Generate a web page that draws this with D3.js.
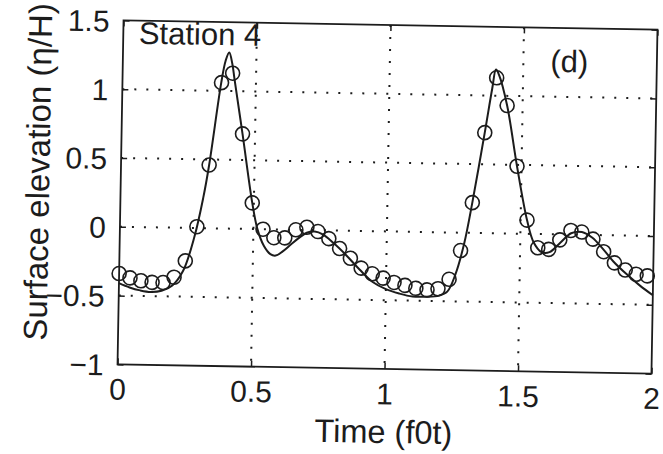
<!DOCTYPE html>
<html>
<head>
<meta charset="utf-8">
<script src="https://cdn.jsdelivr.net/npm/d3@7/dist/d3.min.js"></script>
<style>
  body { margin: 0; background: #fff; }
  svg { display: block; font-family: "Liberation Sans", Arial, sans-serif; }
</style>
</head>
<body>
<svg id="chart" width="663" height="454"></svg>
<script>
// measured samples (circles)
var obsTime = [0, 0.041, 0.082, 0.124, 0.165, 0.206, 0.247, 0.288, 0.330, 0.371,
  0.412, 0.453, 0.494, 0.536, 0.577, 0.618, 0.659, 0.700, 0.742, 0.783,
  0.824, 0.865, 0.906, 0.948, 0.989, 1.030, 1.071, 1.112, 1.154, 1.195,
  1.236, 1.277, 1.318, 1.360, 1.401, 1.442, 1.483, 1.524, 1.566, 1.607,
  1.648, 1.689, 1.730, 1.772, 1.813, 1.854, 1.895, 1.936, 1.978];
var obsElev = [-0.34, -0.37, -0.39, -0.40, -0.40, -0.36, -0.24, 0.01, 0.46, 1.06,
  1.13, 0.69, 0.19, 0.00, -0.06, -0.06, 0.00, 0.02, -0.01, -0.06,
  -0.13, -0.20, -0.27, -0.31, -0.34, -0.37, -0.39, -0.41, -0.42, -0.41,
  -0.34, -0.13, 0.22, 0.73, 1.13, 0.93, 0.49, 0.10, -0.10, -0.11,
  -0.04, 0.03, 0.02, -0.03, -0.12, -0.20, -0.25, -0.28, -0.29];

// model (solid line)
var modelTime = [0, 0.04, 0.08, 0.12, 0.16, 0.20, 0.24, 0.28, 0.31, 0.33,
  0.37, 0.385, 0.398, 0.41, 0.42, 0.453, 0.494, 0.515, 0.54, 0.565,
  0.585, 0.61, 0.64, 0.67, 0.70, 0.73, 0.76, 0.80, 0.85, 0.90,
  0.95, 1.00, 1.05, 1.10, 1.15, 1.20, 1.23, 1.26, 1.29, 1.318,
  1.36, 1.385, 1.398, 1.41, 1.442, 1.483, 1.524, 1.55, 1.58, 1.61,
  1.65, 1.69, 1.73, 1.77, 1.81, 1.85, 1.90, 1.95, 2.00];
var modelElev = [-0.41, -0.44, -0.46, -0.47, -0.46, -0.42, -0.31, -0.06, 0.22, 0.46,
  1.06, 1.22, 1.28, 1.20, 1.08, 0.69, 0.19, 0.00, -0.12, -0.18,
  -0.19, -0.16, -0.11, -0.06, -0.02, -0.01, -0.03, -0.09, -0.18, -0.28,
  -0.37, -0.42, -0.45, -0.47, -0.47, -0.46, -0.43, -0.30, -0.08, 0.22,
  0.73, 1.05, 1.19, 1.15, 0.93, 0.49, 0.10, -0.06, -0.13, -0.13,
  -0.06, 0.01, 0.02, -0.02, -0.10, -0.19, -0.28, -0.36, -0.43];

var xTicks = [0, 0.5, 1, 1.5, 2];
var yTicks = [-1, -0.5, 0, 0.5, 1, 1.5];

var plotL = 120.5, plotR = 654.5, plotT = 25, plotB = 369;
var ink = "#1c1c1c";

var svg = d3.select("#chart");
svg.append("rect").attr("width", 663).attr("height", 454).attr("fill", "#fff");

// the scanned figure sits slightly tilted
var g = svg.append("g").attr("transform", "rotate(1, 387.5, 197)");

var x = d3.scaleLinear().domain([0, 2]).range([plotL, plotR]);
var y = d3.scaleLinear().domain([-1, 1.5]).range([plotB, plotT]);
var fmt = d3.format("~g");

// dotted grid
g.selectAll(".vgrid").data(xTicks.slice(1, -1)).enter().append("line")
  .attr("x1", d => x(d)).attr("x2", d => x(d))
  .attr("y1", plotT).attr("y2", plotB)
  .attr("stroke", ink).attr("stroke-width", 2)
  .attr("stroke-dasharray", "2,10");
g.selectAll(".hgrid").data(yTicks.slice(1, -1)).enter().append("line")
  .attr("x1", plotL).attr("x2", plotR)
  .attr("y1", d => y(d)).attr("y2", d => y(d))
  .attr("stroke", ink).attr("stroke-width", 2)
  .attr("stroke-dasharray", "2,10");

// axes with inward ticks
var axB = g.append("g").attr("transform", "translate(0," + plotB + ")")
  .call(d3.axisBottom(x).tickValues(xTicks).tickSizeInner(-6).tickSizeOuter(0).tickPadding(14).tickFormat(fmt));
var axL = g.append("g").attr("transform", "translate(" + plotL + ",0)")
  .call(d3.axisLeft(y).tickValues(yTicks).tickSizeInner(-6).tickSizeOuter(0).tickPadding(14).tickFormat(fmt));
var axT = g.append("g").attr("transform", "translate(0," + plotT + ")")
  .call(d3.axisTop(x).tickValues(xTicks).tickSizeInner(-6).tickSizeOuter(0).tickFormat(""));
var axR = g.append("g").attr("transform", "translate(" + plotR + ",0)")
  .call(d3.axisRight(y).tickValues(yTicks).tickSizeInner(-6).tickSizeOuter(0).tickFormat(""));

[axB, axL, axT, axR].forEach(function(a) {
  a.select(".domain").remove();
  a.selectAll(".tick line").attr("stroke", ink).attr("stroke-width", 1.5);
  a.selectAll("text").attr("fill", ink).style("font-size", "30px")
    .style("font-family", "'Liberation Sans', Arial, sans-serif");
});
axB.selectAll("text").attr("dy", "0.71em");
axL.selectAll("text").attr("dy", "0.36em");

g.append("rect")
  .attr("x", plotL).attr("y", plotT)
  .attr("width", plotR - plotL).attr("height", plotB - plotT)
  .attr("fill", "none").attr("stroke", ink).attr("stroke-width", 1.8);

// model line
var line = d3.line().x((d, i) => x(modelTime[i])).y(d => y(d)).curve(d3.curveCatmullRom);
g.append("path").datum(modelElev)
  .attr("d", line)
  .attr("fill", "none").attr("stroke", ink).attr("stroke-width", 2);

// measured circles
g.selectAll(".obs").data(obsElev).enter().append("circle")
  .attr("cx", (d, i) => x(obsTime[i]))
  .attr("cy", d => y(d))
  .attr("r", 7)
  .attr("fill", "none").attr("stroke", ink).attr("stroke-width", 1.6);

// labels
g.append("text").attr("x", 136).attr("y", 48).attr("fill", ink)
  .style("font-size", "31px").text("Station 4");
g.append("text").attr("x", 567).attr("y", 69).attr("text-anchor", "middle").attr("fill", ink)
  .style("font-size", "31px").text("(d)");
g.append("text").attr("x", 387.5).attr("y", 443).attr("text-anchor", "middle").attr("fill", ink)
  .style("font-size", "32.5px").text("Time (f0t)");
g.append("text").attr("transform", "translate(49,178) rotate(-90)")
  .attr("text-anchor", "middle").attr("fill", ink)
  .style("font-size", "33px").text("Surface elevation (η/H)");
</script>
</body>
</html>
